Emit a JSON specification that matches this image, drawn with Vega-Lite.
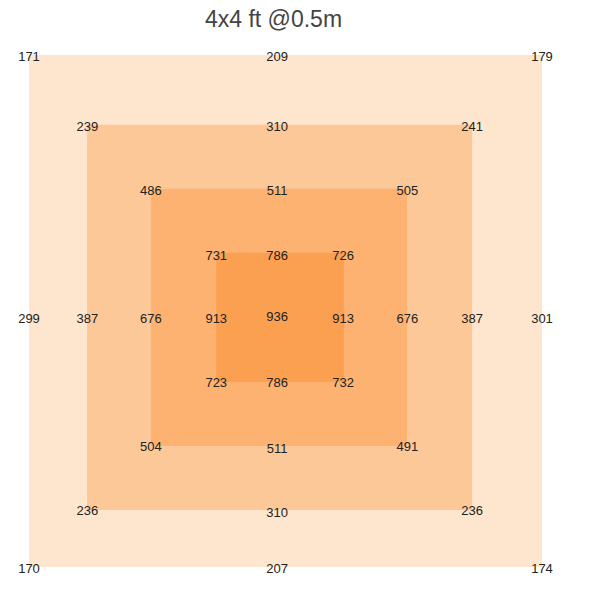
{
  "$schema": "https://vega.github.io/schema/vega-lite/v6.json",
  "width": 513,
  "height": 512,
  "autosize": {"type": "none"},
  "padding": {"left": 29, "top": 55, "right": 58, "bottom": 27},
  "title": {"text": "4x4 ft @0.5m", "fontSize": 23, "font": "Liberation Sans", "fontWeight": "normal", "color": "#444444", "dx": -12, "offset": 19},
  "config": {"view": {"stroke": null}},
  "datasets": {
    "squares": [
      {"ring": 1, "x0": 0, "x1": 8.0, "y0": 0, "y1": 8.0},
      {"ring": 2, "x0": 0.905, "x1": 6.91, "y0": 1.09, "y1": 7.11},
      {"ring": 3, "x0": 1.9, "x1": 5.895, "y0": 2.09, "y1": 6.11},
      {"ring": 4, "x0": 2.92, "x1": 4.91, "y0": 3.09, "y1": 5.11}
    ],
    "labels": [
      {"x": 0, "y": 0, "v": 171},
      {"x": 3.87, "y": 0, "v": 209},
      {"x": 8.0, "y": 0, "v": 179},
      {"x": 0.91, "y": 1.09, "v": 239},
      {"x": 3.87, "y": 1.09, "v": 310},
      {"x": 6.91, "y": 1.09, "v": 241},
      {"x": 1.9, "y": 2.1, "v": 486},
      {"x": 3.87, "y": 2.1, "v": 511},
      {"x": 5.9, "y": 2.1, "v": 505},
      {"x": 2.92, "y": 3.11, "v": 731},
      {"x": 3.87, "y": 3.11, "v": 786},
      {"x": 4.9, "y": 3.11, "v": 726},
      {"x": 0, "y": 4.1, "v": 299},
      {"x": 0.91, "y": 4.1, "v": 387},
      {"x": 1.9, "y": 4.1, "v": 676},
      {"x": 2.92, "y": 4.1, "v": 913},
      {"x": 3.87, "y": 4.07, "v": 936},
      {"x": 4.9, "y": 4.1, "v": 913},
      {"x": 5.9, "y": 4.1, "v": 676},
      {"x": 6.91, "y": 4.1, "v": 387},
      {"x": 8.0, "y": 4.1, "v": 301},
      {"x": 2.92, "y": 5.09, "v": 723},
      {"x": 3.87, "y": 5.09, "v": 786},
      {"x": 4.9, "y": 5.09, "v": 732},
      {"x": 1.9, "y": 6.1, "v": 504},
      {"x": 3.87, "y": 6.12, "v": 511},
      {"x": 5.9, "y": 6.1, "v": 491},
      {"x": 0.91, "y": 7.09, "v": 236},
      {"x": 3.87, "y": 7.12, "v": 310},
      {"x": 6.91, "y": 7.09, "v": 236},
      {"x": 0, "y": 8.0, "v": 170},
      {"x": 3.87, "y": 8.0, "v": 207},
      {"x": 8.0, "y": 8.0, "v": 174}
    ]
  },
  "layer": [
    {
      "data": {"name": "squares"},
      "mark": {"type": "rect"},
      "encoding": {
        "x": {"field": "x0", "type": "quantitative", "scale": {"domain": [0, 8], "nice": false, "zero": false}, "axis": null},
        "x2": {"field": "x1"},
        "y": {"field": "y0", "type": "quantitative", "scale": {"domain": [0, 8], "nice": false, "zero": false, "reverse": true}, "axis": null},
        "y2": {"field": "y1"},
        "color": {"field": "ring", "type": "ordinal", "scale": {"domain": [1, 2, 3, 4], "range": ["#fee5cd", "#fdc898", "#fdb272", "#fba050"]}, "legend": null}
      }
    },
    {
      "data": {"name": "labels"},
      "mark": {"type": "text", "fontSize": 13, "font": "Liberation Sans", "color": "#222222", "baseline": "middle", "align": "center", "dy": 2},
      "encoding": {
        "x": {"field": "x", "type": "quantitative"},
        "y": {"field": "y", "type": "quantitative"},
        "text": {"field": "v", "type": "nominal"}
      }
    }
  ]
}
